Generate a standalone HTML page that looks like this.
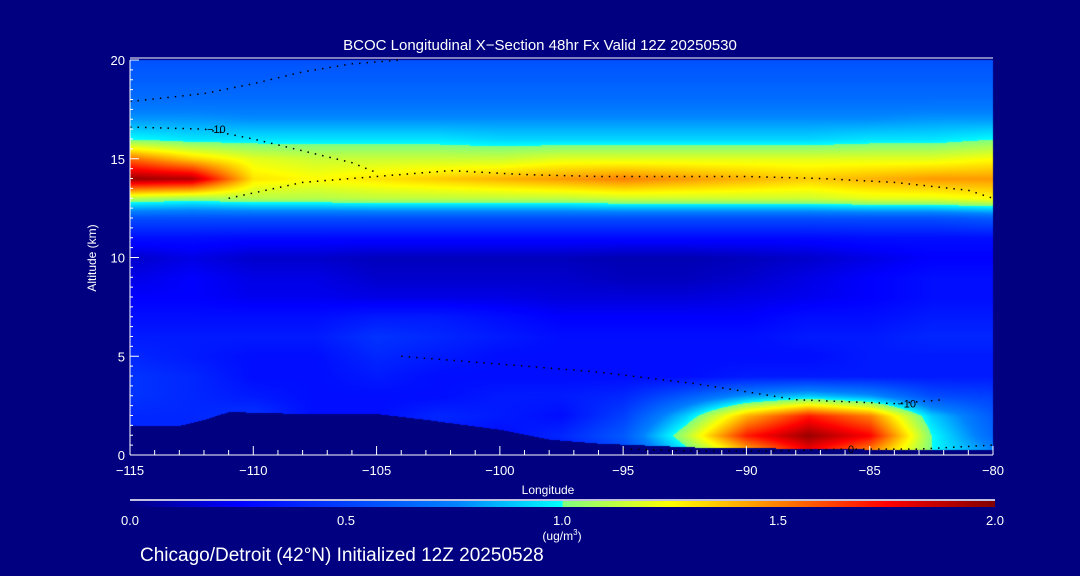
<!DOCTYPE html>
<html><head><meta charset="utf-8"><style>
html,body{margin:0;padding:0;background:#000080;}
#wrap{position:relative;width:1080px;height:576px;background:#000080;overflow:hidden;font-family:"Liberation Sans",sans-serif;color:#fff;}
canvas{position:absolute;left:0;top:0;}
svg{position:absolute;left:0;top:0;}
</style></head><body>
<div id="wrap">
<canvas id="cv" width="1080" height="576"></canvas>
<svg id="sv" width="1080" height="576">
<defs><linearGradient id="cb" x1="0" x2="1" y1="0" y2="0">
<stop offset="0" stop-color="#000080"/><stop offset="0.125" stop-color="#0000ff"/><stop offset="0.375" stop-color="#0080ff"/><stop offset="0.5" stop-color="#00ffff" /><stop offset="0.5" stop-color="#80ff80"/><stop offset="0.625" stop-color="#ffff00"/><stop offset="0.75" stop-color="#ff8000"/><stop offset="0.875" stop-color="#ff0000"/><stop offset="1" stop-color="#800000"/>
</linearGradient></defs>
<g id="contours"></g>
<g id="axes"></g>
<text x="540" y="50" font-size="15" fill="#fff" text-anchor="middle">BCOC Longitudinal X−Section 48hr  Fx Valid 12Z 20250530</text>
<text x="548" y="494" font-size="12" fill="#fff" text-anchor="middle">Longitude</text>
<text transform="translate(96,258) rotate(-90)" font-size="12" fill="#fff" text-anchor="middle">Altitude (km)</text>
<line x1="130" y1="500" x2="995" y2="500" stroke="#fff" stroke-width="1.5"/>
<rect x="130" y="501" width="865" height="6" fill="url(#cb)"/>
<g font-size="13" fill="#fff" text-anchor="middle">
<text x="130" y="525">0.0</text><text x="346" y="525">0.5</text><text x="562" y="525">1.0</text><text x="778" y="525">1.5</text><text x="995" y="525">2.0</text>
<text x="562" y="540" font-size="12">(ug/m<tspan dy="-5" font-size="8">3</tspan><tspan dy="5">)</tspan></text>
</g>
<text x="140" y="561" font-size="19" fill="#fff">Chicago/Detroit (42°N) Initialized 12Z 20250528</text>
</svg>
</div>
<script>
const lons=[-115,-112.5,-110,-107.5,-105,-102.5,-100,-97.5,-95,-92.5,-90,-87.5,-85,-82.5,-80];
const alts=[0,1,2,3,4,5,6,7,8,9,10,11,12,13,14,15,16,17,18,19,20];
const conc=[
[0.3,0.3,0.3,0.3,0.3,0.3,0.3,0.3,0.5,0.9,1.3,1.7,1.4,1.0,0.8],
[0.4,0.4,0.4,0.35,0.35,0.35,0.3,0.4,0.6,1.1,1.7,1.95,1.75,1.0,0.65],
[0.4,0.4,0.45,0.3,0.3,0.4,0.35,0.3,0.5,0.9,1.4,1.7,1.5,0.9,0.6],
[0.45,0.4,0.35,0.3,0.3,0.3,0.35,0.35,0.4,0.6,0.8,0.9,0.8,0.55,0.5],
[0.45,0.4,0.3,0.3,0.35,0.3,0.3,0.3,0.3,0.3,0.35,0.35,0.35,0.35,0.35],
[0.4,0.35,0.3,0.3,0.4,0.35,0.3,0.3,0.3,0.3,0.3,0.3,0.35,0.35,0.35],
[0.35,0.35,0.35,0.35,0.45,0.4,0.35,0.3,0.3,0.3,0.3,0.35,0.35,0.4,0.4],
[0.3,0.3,0.3,0.3,0.35,0.35,0.3,0.25,0.25,0.25,0.25,0.3,0.3,0.35,0.35],
[0.25,0.25,0.22,0.22,0.2,0.2,0.2,0.18,0.18,0.18,0.2,0.22,0.25,0.3,0.3],
[0.2,0.25,0.2,0.2,0.15,0.15,0.15,0.15,0.12,0.12,0.15,0.2,0.25,0.3,0.3],
[0.15,0.2,0.15,0.15,0.12,0.12,0.12,0.12,0.1,0.1,0.12,0.15,0.2,0.25,0.25],
[0.3,0.3,0.28,0.28,0.28,0.28,0.28,0.28,0.28,0.28,0.28,0.28,0.3,0.3,0.3],
[0.55,0.55,0.55,0.55,0.55,0.55,0.55,0.55,0.55,0.55,0.55,0.55,0.55,0.55,0.6],
[1.1,1.05,1.1,1.1,1.12,1.12,1.12,1.12,1.15,1.15,1.15,1.15,1.2,1.2,1.25],
[1.95,1.9,1.3,1.25,1.3,1.35,1.4,1.45,1.5,1.45,1.4,1.35,1.4,1.45,1.45],
[1.55,1.35,1.2,1.15,1.15,1.15,1.15,1.2,1.2,1.2,1.2,1.2,1.2,1.2,1.25],
[1.0,0.95,0.95,0.95,0.95,0.95,0.92,0.92,0.92,0.92,0.92,0.92,0.95,0.95,1.0],
[0.8,0.8,0.78,0.78,0.78,0.78,0.78,0.78,0.78,0.78,0.78,0.78,0.78,0.8,0.8],
[0.68,0.68,0.68,0.68,0.68,0.68,0.68,0.68,0.68,0.68,0.68,0.68,0.68,0.68,0.68],
[0.62,0.62,0.62,0.62,0.62,0.62,0.62,0.62,0.62,0.62,0.62,0.62,0.62,0.62,0.62],
[0.57,0.57,0.57,0.57,0.57,0.57,0.57,0.57,0.57,0.57,0.57,0.57,0.57,0.57,0.57]];
const terrainLon=[-115,-113,-112,-111,-108,-105,-103,-100,-98,-96,-92,-85,-80];
const terrainAlt=[1.5,1.5,1.8,2.2,2.1,2.1,1.8,1.3,0.8,0.6,0.4,0.3,0.3];
const xTicks=[-115,-110,-105,-100,-95,-90,-85,-80];
const yTicks=[0,5,10,15,20];
const contourA_lon=[-115,-112,-110,-108,-106,-104];
const contourA_alt=[17.9,18.3,18.8,19.4,19.8,20];
const contourB_lon=[-115,-112,-110,-108,-106,-105];
const contourB_alt=[16.6,16.5,16.0,15.4,14.8,14.3];
const contourC_lon=[-111,-108,-105,-102,-99,-96,-93,-90,-87,-84,-81,-80];
const contourC_alt=[13.0,13.8,14.1,14.4,14.2,14.1,14.1,14.1,14.0,13.8,13.4,13.0];
const contourD_lon=[-104,-100,-96,-92,-88,-84,-82];
const contourD_alt=[5.0,4.6,4.2,3.6,2.8,2.6,2.8];
const contourE_lon=[-95,-92,-89,-86,-83,-80];
const contourE_alt=[0.3,0.2,0.2,0.3,0.3,0.5];

const X0=130,X1=993,Y0=455,Y1=60;
function xs(l){return X0+(l+115)/35*(X1-X0);}
function ys(a){return Y0-a/20*(Y0-Y1);}
const stops=[[0,0,0,128],[0.25,0,0,255],[0.75,0,128,255],[1.0,0,255,255],[1.0,128,255,128],[1.25,255,255,0],[1.5,255,128,0],[1.75,255,0,0],[2.0,128,0,0]];
function col(v){v=Math.max(0,Math.min(2,v));for(let i=1;i<stops.length;i++){const a=stops[i-1],b=stops[i];if(v<=b[0]){const t=b[0]>a[0]?(v-a[0])/(b[0]-a[0]):0;return[a[1]+t*(b[1]-a[1]),a[2]+t*(b[2]-a[2]),a[3]+t*(b[3]-a[3])];}}return[128,0,0];}
function sample(l,a){let fi=(l-lons[0])/2.5,fj=a;fi=Math.max(0,Math.min(lons.length-1.0001,fi));fj=Math.max(0,Math.min(alts.length-1.0001,fj));const i=Math.floor(fi),j=Math.floor(fj),ti=fi-i,tj=fj-j;
return conc[j][i]*(1-ti)*(1-tj)+conc[j][i+1]*ti*(1-tj)+conc[j+1][i]*(1-ti)*tj+conc[j+1][i+1]*ti*tj;}
function terr(l){for(let i=1;i<terrainLon.length;i++){if(l<=terrainLon[i]){const t=(l-terrainLon[i-1])/(terrainLon[i]-terrainLon[i-1]);return terrainAlt[i-1]+t*(terrainAlt[i]-terrainAlt[i-1]);}}return terrainAlt[terrainAlt.length-1];}
const cv=document.getElementById('cv'),ctx=cv.getContext('2d');
ctx.fillStyle='#000080';ctx.fillRect(0,0,1080,576);
const W=X1-X0,H=Y0-Y1;const img=ctx.createImageData(W,H);
for(let py=0;py<H;py++){const a=(Y0-(Y1+py))/(Y0-Y1)*20;for(let px=0;px<W;px++){const l=-115+px/W*35;let c;if(a<terr(l))c=[0,0,128];else c=col(sample(l,a));const k=(py*W+px)*4;img.data[k]=c[0];img.data[k+1]=c[1];img.data[k+2]=c[2];img.data[k+3]=255;}}
ctx.putImageData(img,X0,Y1);
const NS='http://www.w3.org/2000/svg';
const cg=document.getElementById('contours');
function contour(L,A,name,label,li){let d='';for(let i=0;i<L.length;i++)d+=(i?'L':'M')+xs(L[i]).toFixed(1)+','+ys(A[i]).toFixed(1);
const p=document.createElementNS(NS,'path');p.setAttribute('d',d);p.setAttribute('fill','none');p.setAttribute('stroke','#000');p.setAttribute('stroke-width','1.5');p.setAttribute('stroke-dasharray','1.5 6');


cg.appendChild(p);
if(label){const t=document.createElementNS(NS,'text');t.setAttribute('x',xs(L[li])+3);t.setAttribute('y',ys(A[li])+4);t.setAttribute('font-size','11');t.setAttribute('fill','#000');t.textContent=label;


cg.appendChild(t);}}
contour(contourA_lon,contourA_alt,'contour-upper','',0);
contour(contourB_lon,contourB_alt,'contour-minus10-left','−10',1);
contour(contourC_lon,contourC_alt,'contour-minus10-mid','',0);
contour(contourD_lon,contourD_alt,'contour-lower','−10',5);
contour(contourE_lon,contourE_alt,'contour-zero','0',3);
const ag=document.getElementById('axes');
function line(x1,y1,x2,y2,n){const e=document.createElementNS(NS,'line');e.setAttribute('x1',x1);e.setAttribute('y1',y1);e.setAttribute('x2',x2);e.setAttribute('y2',y2);e.setAttribute('stroke','#fff');e.setAttribute('stroke-width','1');


ag.appendChild(e);}
function txt(x,y,s,anchor,n){const t=document.createElementNS(NS,'text');t.setAttribute('x',x);t.setAttribute('y',y);t.setAttribute('font-size','13');t.setAttribute('fill','#fff');t.setAttribute('text-anchor',anchor);t.textContent=s;


ag.appendChild(t);}
line(X0,Y0,X1,Y0,'x-axis-line');line(X0,Y0,X0,Y1,'y-axis-line');line(X0,Y1-2,X1,Y1-2,'top-border');
for(let l=-115;l<=-80;l++){const maj=xTicks.includes(l);line(xs(l),Y0,xs(l),Y0-(maj?9:5),'x-tick');}
xTicks.forEach(l=>txt(xs(l),475,String(l).replace('-','−'),'middle','x-tick-label'));
for(let a=0;a<=20;a+=0.5){const maj=yTicks.includes(a);line(X0,ys(a),X0+(maj?9:3),ys(a),'y-tick');}
yTicks.forEach(a=>txt(X0-5,ys(a)+5,String(a),'end','y-tick-label'));
</script>
</body></html>
